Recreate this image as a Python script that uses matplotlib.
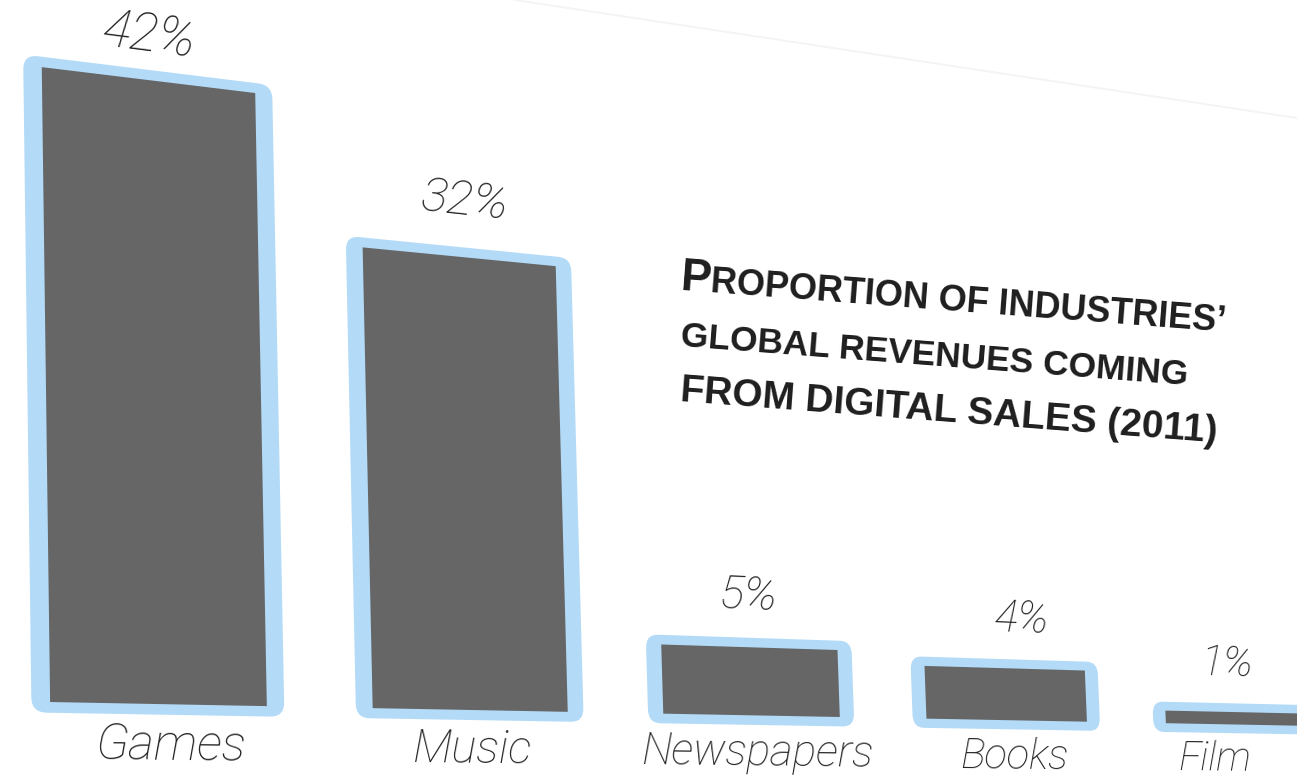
import numpy as np
import matplotlib
matplotlib.use("Agg")
import matplotlib.pyplot as plt
from matplotlib.transforms import Transform
from matplotlib.patches import FancyBboxPatch

industries = ["Games", "Music", "Newspapers", "Books", "Film"]
digital_share = [42, 32, 5, 4, 1]
value_labels = ["42%", "32%", "5%", "4%", "1%"]

BAR_W = 0.66
PAD_X = 0.055
PAD_Y = 0.7
GREY = "#666666"
BLUE = "#b3dbf8"

# label nudges: sideways in bar slots, upward in percent
value_dx = [0.0, 0.02, 0.0, 0.07, -0.05]
value_dy = [3.0, 4.0, 3.8, 3.8, 3.8]
name_dx = [0.03, 0.0, 0.01, 0.02, -0.12]

# the flat chart plane (slot, percent) and where its corners land on the tilted page
plane_flat = [(-0.2, -4), (4.9, -4), (-0.2, 48), (4.9, 48)]
plane_px = [(-18, 763), (1366, 775.5), (-27, -31), (1336, 154)]


def fit_view(src, dst):
    src = np.asarray(src, float)
    dst = np.asarray(dst, float)
    ts = np.diag([1.0, 0.1, 1.0])
    td = np.diag([1e-3, 1e-3, 1.0])
    s = src * [1.0, 0.1]
    d = dst * 1e-3
    rows = []
    for (x, y), (u, v) in zip(s, d):
        rows.append([x, y, 1, 0, 0, 0, -u * x, -u * y, -u])
        rows.append([0, 0, 0, x, y, 1, -v * x, -v * y, -v])
    _, _, vt = np.linalg.svd(np.array(rows))
    hn = vt[-1].reshape(3, 3)
    h = np.linalg.inv(td) @ hn @ ts
    return h / h[2, 2]


class PageView(Transform):
    """Projective map from the flat chart onto the tilted page."""
    input_dims = output_dims = 2
    is_separable = False
    has_inverse = True

    def __init__(self, h):
        super().__init__()
        self.h = np.asarray(h, float)

    def transform_non_affine(self, values):
        v = np.asarray(values, float).reshape(-1, 2)
        p = np.column_stack([v, np.ones(len(v))]) @ self.h.T
        return p[:, :2] / p[:, 2:3]

    def inverted(self):
        return PageView(np.linalg.inv(self.h))


view = PageView(fit_view(plane_flat, plane_px))


def to_px(x, y):
    return view.transform_non_affine([(x, y)])[0]


def local_dir(x, y, d=0.05):
    a, b = to_px(x - d, y), to_px(x + d, y)
    ang = np.degrees(np.arctan2(-(b[1] - a[1]), b[0] - a[0]))
    return ang, np.hypot(*(b - a)) / (2 * d)


fig = plt.figure(figsize=(12.97, 7.77), dpi=100)
ax = fig.add_axes([0, 0, 1, 1])
ax.set_autoscale_on(False)
ax.set_xlim(0, 1297)
ax.set_ylim(777, 0)
ax.axis("off")

page = view + ax.transData
slots = np.arange(len(industries))

# faint page edge at the top right
ax.plot([515, 1297], [0, 118], color="#f4f4f4", lw=1.4, zorder=0)

for i, v in zip(slots, digital_share):
    frame = FancyBboxPatch((i - PAD_X, -PAD_Y), BAR_W + 2 * PAD_X, v + 2 * PAD_Y,
                           boxstyle="round,pad=0,rounding_size=0.045",
                           mutation_aspect=22, transform=page,
                           fc=BLUE, ec="none", zorder=2)
    ax.add_patch(frame)

ax.bar(slots, digital_share, width=BAR_W, align="edge", color=GREY,
       transform=page, zorder=3)

_, ref_scale = local_dir(BAR_W / 2, 0)
label_font = dict(family="Roboto", weight="light", style="italic", color="#222222")
for i, v, lab, name, dv, up, dn in zip(slots, digital_share, value_labels, industries,
                                       value_dx, value_dy, name_dx):
    cx = i + BAR_W / 2
    ang, sc = local_dir(cx + dv, v + up)
    ax.text(cx + dv, v + up, lab, transform=page, rotation=ang, rotation_mode="anchor",
            ha="center", va="center", fontsize=38 * (sc / ref_scale) ** 0.6, **label_font)
    ang, sc = local_dir(cx + dn, -2.8)
    ax.text(cx + dn, -2.8, name, transform=page, rotation=ang, rotation_mode="anchor",
            ha="center", va="center", fontsize=36 * (sc / ref_scale) ** 0.6, **label_font)

# title, set in small caps along the page tilt
title_font = dict(family="Liberation Sans", weight="bold", color="#1e1e1e",
                  rotation=-4.4, rotation_mode="anchor", ha="left", va="baseline")
ax.text(680, 290, "P", fontsize=33, **title_font)
ax.text(710, 292, "ROPORTION OF INDUSTRIES\u2019", fontsize=26, **title_font)
ax.text(680, 346, "GLOBAL REVENUES COMING", fontsize=25.5, **title_font)
ax.text(680, 401, "FROM DIGITAL SALES (2011)", fontsize=28, **title_font)

fig.savefig("out.png", dpi=100)
